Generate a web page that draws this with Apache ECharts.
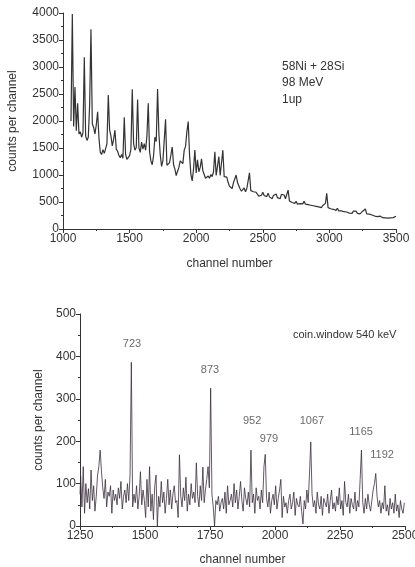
<!DOCTYPE html>
<html>
<head>
<meta charset="utf-8">
<script src="https://cdn.jsdelivr.net/npm/echarts@6/dist/echarts.min.js"></script>
<style>
  html, body { margin: 0; padding: 0; background: #fff; }
  #chart { width: 415px; height: 567px; }
</style>
</head>
<body>
<div id="chart"></div>
<script>
// Singles spectrum: counts per 10-channel step, starting at channel 1060
const singlesStart = 1060;
const singlesStep = 10;
const singlesCounts = [
  2000, 3980, 1900, 2630, 1820, 2330, 1760, 1800, 1700, 1780,
  3180, 1720, 1640, 1700, 2300, 3700, 1950, 1880, 1760, 1930,
  2170, 1680, 1420, 1380, 1470, 1400, 1490, 1580, 2480, 1830,
  1720, 1540, 1660, 1830, 1480, 1440, 1360, 1320, 1380, 1310,
  2070, 1380, 1290, 1270, 1360, 1480, 2590, 1580, 1460, 1510,
  2400, 1500, 1420, 1610, 1480, 1580, 1460, 1720, 2330, 1430,
  1260, 1190, 1360, 1700, 1620, 2590, 1760, 1380, 1160, 1260,
  1290, 2030, 1180, 1160, 1230, 1370, 1520, 1190, 1110, 990,
  1070, 1140, 1260, 1290, 1210, 1460, 1530, 1800, 1990, 1380,
  1010, 890, 1110, 1460, 1040, 1280, 1060, 1140, 1300, 1080,
  1010, 940, 910, 980, 940, 1010, 970, 1060, 1430, 990,
  990, 1340, 990, 960, 1460, 970, 950, 960, 860, 790,
  790, 750, 860, 890, 1000, 860, 830, 740, 700, 710,
  760, 690, 750, 770, 1040, 710, 690, 690, 670, 680,
  670, 610, 640, 625, 680, 620, 615, 600, 665, 595,
  610, 560, 620, 600, 650, 580, 575, 560, 640, 610,
  630, 560, 580, 720, 520, 540, 490, 525, 475, 515,
  460, 490, 470, 495, 465, 515, 460, 480, 450, 470,
  440, 460, 430, 450, 420, 440, 410, 445, 395, 435,
  415, 475, 660, 395, 415, 375, 405, 365, 385, 345,
  385, 335, 355, 335, 345, 320, 335, 315, 325, 295,
  325, 290, 330, 295, 330, 290, 320, 280, 310, 330,
  300, 370, 280, 290, 275, 300, 260, 270, 240, 255,
  230, 245, 240, 240, 210, 240, 205, 230, 200, 235,
  205, 240, 210, 245, 235
];

// Coincidence spectrum: counts per 5-channel bin, starting at channel 1250
const coinStart = 1250;
const coinStep = 5;
const coinCounts = [
  75, 118, 45, 140, 30, 100, 55, 88, 40, 132,
  60, 95, 35, 70, 120, 140, 179, 130, 90, 65,
  110, 45, 80, 70, 95, 30, 85, 60, 75, 50,
  90, 65, 105, 40, 70, 85, 55, 100, 60, 120,
  386, 45, 75, 55, 95, 40, 70, 128, 50, 85,
  60, 20, 110, 45, 140, 35, 75, 15, 95, 120,
  0, 70, 45, 105, 55, 80, 30, 65, 110, 50,
  85, 40, 75, 95, 55, 60, 20, 168, 70, 45,
  90, 60, 115, 35, 75, 50, 100, 65, 80, 55,
  149, 70, 45, 95, 60, 139, 55, 85, 110, 140,
  90, 325, 75, 45, 0, 60, 50, 70, 35, 55,
  65, 40, 80, 30, 95, 50, 60, 75, 45, 100,
  55, 85, 40, 70, 105, 60, 35, 90, 65, 50,
  80, 45, 179, 55, 75, 30, 90, 60, 70, 40,
  85, 55, 140, 169, 65, 45, 80, 30, 60, 75,
  50, 95, 40, 65, 85, 110, 20, 70, 45, 55,
  30, 60, 75, 40, 55, 80, 25, 65, 50, 45,
  70, 35, 5, 60, 40, 85, 55, 120, 198, 75,
  45, 60, 30, 80, 50, 40, 70, 25, 65, 55,
  45, 75, 30, 60, 85, 40, 55, 35, 70, 50,
  90, 40, 60, 25, 105, 55, 45, 75, 30, 65,
  50, 40, 80, 35, 60, 45, 110, 179, 55, 30,
  65, 40, 75, 50, 35, 60, 85, 100, 124, 70,
  45, 60, 30, 55, 40, 95, 35, 50, 25, 65,
  40, 55, 30, 75, 35, 50, 20, 60, 40, 30, 55
];

// Gamma-line energies (keV) and where their labels sit (channel, counts)
const peakLabels = ['723', '873', '952', '979', '1067', '1165', '1192'];
const peakLabelChannels = [1450, 1750, 1912, 1977, 2142, 2331, 2412];
const peakLabelCounts = [430, 367, 247, 205, 247, 221, 167];

// Tick settings
const singlesXTicks = { min: 1000, max: 3500, interval: 500 };
const singlesYTicks = { min: 0, max: 4000, interval: 500 };
const coinXTicks = { min: 1250, max: 2500, interval: 250 };
const coinYTicks = { min: 0, max: 500, interval: 100 };

const singlesData = singlesCounts.map((v, i) => [singlesStart + i * singlesStep, v]);
const coinData = coinCounts.map((v, i) => [coinStart + i * coinStep, v]);
const labelData = peakLabels.map((t, i) => ({ value: [peakLabelChannels[i], peakLabelCounts[i]], name: t }));

const FONT = 'Liberation Sans, Arial, sans-serif';
const INK = '#333';

function valueAxis(ticks, gridIndex, extra) {
  return Object.assign({
    type: 'value',
    gridIndex: gridIndex,
    min: ticks.min,
    max: ticks.max,
    interval: ticks.interval,
    splitLine: { show: false },
    axisLine: { show: true, onZero: false, lineStyle: { color: INK, width: 1 } },
    axisTick: { show: true, inside: false, length: 4, lineStyle: { color: INK } },
    minorTick: { show: true, splitNumber: 2, length: 2, lineStyle: { color: INK } },
    axisLabel: { color: INK, fontFamily: FONT, fontSize: 12, margin: 4, formatter: v => String(v) },
    nameLocation: 'middle',
    nameTextStyle: { color: INK, fontFamily: FONT, fontSize: 12 }
  }, extra);
}

const chart = echarts.init(document.getElementById('chart'), null, { renderer: 'canvas' });
chart.setOption({
  backgroundColor: '#fff',
  animation: false,
  grid: [
    { left: 63, right: 19, top: 13, height: 216, outerBoundsMode: 'none' },
    { left: 80, right: 10, top: 314, height: 212, outerBoundsMode: 'none' }
  ],
  xAxis: [
    valueAxis(singlesXTicks, 0, { name: 'channel number', nameGap: 29 }),
    valueAxis(coinXTicks, 1, { name: 'channel number', nameGap: 28 })
  ],
  yAxis: [
    valueAxis(singlesYTicks, 0, { name: 'counts per channel', nameGap: 44 }),
    valueAxis(coinYTicks, 1, { name: 'counts per channel', nameGap: 31 })
  ],
  series: [
    {
      type: 'line', xAxisIndex: 0, yAxisIndex: 0,
      data: singlesData, showSymbol: false,
      lineStyle: { color: '#333', width: 1.2 }
    },
    {
      type: 'line', xAxisIndex: 1, yAxisIndex: 1,
      data: coinData, showSymbol: false, step: 'middle',
      lineStyle: { color: '#3a2e3d', width: 0.8 }
    },
    {
      type: 'scatter', xAxisIndex: 1, yAxisIndex: 1,
      data: labelData, symbolSize: 0, silent: true,
      label: {
        show: true, position: 'inside', formatter: p => p.name,
        color: '#444', fontFamily: FONT, fontSize: 11
      }
    }
  ],
  graphic: [
    {
      type: 'text', left: 282, top: 58,
      style: {
        text: '58Ni + 28Si\n98 MeV\n1up', fill: INK,
        font: '12px ' + FONT, lineHeight: 16.5
      }
    },
    {
      type: 'text', left: 293, top: 329,
      style: { text: 'coin.window 540 keV', fill: INK, font: '11px ' + FONT }
    }
  ]
});
</script>
</body>
</html>
